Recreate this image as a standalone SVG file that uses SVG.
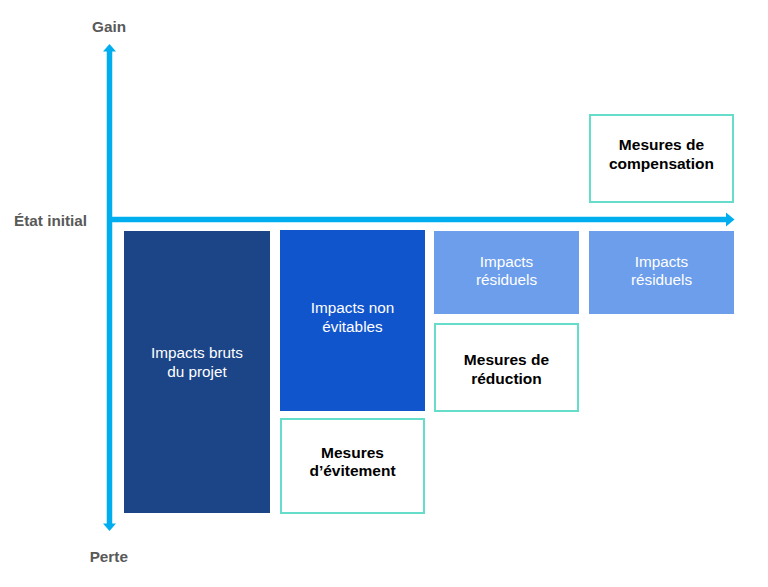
<svg xmlns="http://www.w3.org/2000/svg" width="768" height="587" viewBox="0 0 768 587">
<style>
.axis{stroke:#00AEEF;stroke-width:5.5;fill:none}
.head{fill:#00AEEF}
.lab{font-family:"Liberation Sans",Arial,sans-serif;font-weight:bold;font-size:15.3px;fill:#595959}
.wt{font-family:"Liberation Sans",Arial,sans-serif;font-size:15.3px;fill:#FFFFFF;text-anchor:middle}
.bt{font-family:"Liberation Sans",Arial,sans-serif;font-weight:bold;font-size:15.5px;fill:#000000;text-anchor:middle}
.mes{fill:#FFFFFF;stroke:#66DCCB;stroke-width:2}
</style>
<rect width="768" height="587" fill="#FFFFFF"/>
<g id="connectors">
<line class="axis" x1="109.5" y1="50" x2="109.5" y2="526"/>
<polygon class="head" points="109.5,44 116,51.5 103,51.5"/>
<polygon class="head" points="109.5,531 116,523.5 103,523.5"/>
<line class="axis" x1="107" y1="219.5" x2="727" y2="219.5"/>
<polygon class="head" points="734.5,219.5 726,212.5 726,226.5"/>
</g>
<g id="label-gain"><text class="lab" x="109" y="32" text-anchor="middle">Gain</text></g>
<g id="label-etat"><text class="lab" x="14" y="226">État initial</text></g>
<g id="label-perte"><text class="lab" x="108.8" y="561.5" text-anchor="middle">Perte</text></g>
<g id="impacts-bruts">
<rect x="124" y="231" width="146" height="282" fill="#1C4587"/>
<text class="wt" x="197" y="358">Impacts bruts</text>
<text class="wt" x="197" y="377">du projet</text>
</g>
<g id="impacts-non-evitables">
<rect x="280" y="230" width="145" height="181" fill="#1155CC"/>
<text class="wt" x="352.5" y="313">Impacts non</text>
<text class="wt" x="352.5" y="332">évitables</text>
</g>
<g id="mesures-evitement">
<rect class="mes" x="281" y="419" width="143" height="94"/>
<text class="bt" x="352.5" y="457.5">Mesures</text>
<text class="bt" x="352.5" y="476">d’évitement</text>
</g>
<g id="impacts-residuels-1">
<rect x="434" y="231" width="145" height="83" fill="#6D9EEB"/>
<text class="wt" x="506.5" y="266.5">Impacts</text>
<text class="wt" x="506.5" y="285">résiduels</text>
</g>
<g id="mesures-reduction">
<rect class="mes" x="435" y="324" width="143" height="87"/>
<text class="bt" x="506.5" y="365">Mesures de</text>
<text class="bt" x="506.5" y="383.5">réduction</text>
</g>
<g id="impacts-residuels-2">
<rect x="589" y="231" width="145" height="83" fill="#6D9EEB"/>
<text class="wt" x="661.5" y="266.5">Impacts</text>
<text class="wt" x="661.5" y="285">résiduels</text>
</g>
<g id="mesures-compensation">
<rect class="mes" x="590" y="115" width="143" height="87"/>
<text class="bt" x="661.5" y="150">Mesures de</text>
<text class="bt" x="661.5" y="168.5">compensation</text>
</g>
</svg>
